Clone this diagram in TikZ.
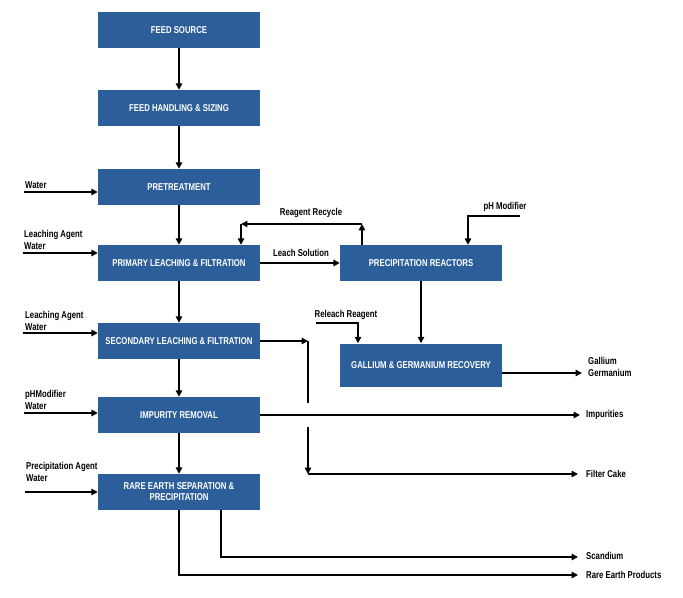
\documentclass[tikz,border=0pt]{standalone}
\usepackage{fontspec}
\setmainfont{Liberation Sans}
\newfontfamily\condfont[FakeStretch=0.78]{Liberation Sans}
\usetikzlibrary{arrows.meta}
\definecolor{boxblue}{RGB}{44,94,153}

\tikzset{
  unitbox/.style={fill=boxblue, text=white, minimum width=4.86cm, minimum height=1.08cm,
    font=\condfont\bfseries\fontsize{8.5}{9.5}\selectfont, align=center, inner sep=1pt},
  flow/.style={line width=1.4pt, -{Triangle[length=5.5pt,width=5.5pt]}},
  pipe/.style={line width=1.4pt},
  lbl/.style={font=\condfont\bfseries\fontsize{8.5}{10}\selectfont, inner sep=0pt, align=left}
}

\begin{document}
\begin{tikzpicture}[x=0.03cm,y=-0.03cm]
		\useasboundingbox (0,0) rectangle (683,598);
		
		% main column
		\node[unitbox] (feed) at (179,30) {FEED SOURCE};
		\node[unitbox] (sizing) at (179,108) {FEED HANDLING \& SIZING};
		\node[unitbox] (pretreat) at (179,187) {PRETREATMENT};
		\node[unitbox] (primary) at (179,263) {PRIMARY LEACHING \& FILTRATION};
		\node[unitbox] (secondary) at (179,341) {SECONDARY LEACHING \& FILTRATION};
		\node[unitbox] (impurity) at (179,415) {IMPURITY REMOVAL};
		\node[unitbox] (rareearth) at (179,492) {RARE EARTH SEPARATION \&\\PRECIPITATION};
		
		% right column
		\node[unitbox] (reactors) at (421,263) {PRECIPITATION REACTORS};
		\node[unitbox, minimum height=1.29cm] (recovery) at (421,365) {GALLIUM \& GERMANIUM RECOVERY};
		
		\draw[flow] (feed) -- (sizing);
		\draw[flow] (sizing) -- (pretreat);
		\draw[flow] (pretreat) -- (primary);
		\draw[flow] (primary) -- (secondary);
		\draw[flow] (secondary) -- (impurity);
		\draw[flow] (impurity) -- (rareearth);
		
		% feeds from the left
		\coordinate (inPre) at (24,192);
		\coordinate (inPri) at (23,253);
		\coordinate (inSec) at (23,333);
		\coordinate (inImp) at (24,413);
		\coordinate (inRare) at (25,492);
		\draw[flow] (inPre) -- (inPre -| pretreat.west);
		\draw[flow] (inPri) -- (inPri -| primary.west);
		\draw[flow] (inSec) -- (inSec -| secondary.west);
		\draw[flow] (inImp) -- (inImp -| impurity.west);
		\draw[flow] (inRare) -- (inRare -| rareearth.west);
		
		\node[lbl, anchor=base west] (lPre) at (25,189) {Water};
		\node[lbl, anchor=base west] (lPri) at (24,249) {Leaching Agent\\Water};
		\node[lbl, anchor=base west] (lSec) at (25,330) {Leaching Agent\\Water};
		\node[lbl, anchor=base west] (lImp) at (25,409) {pHModifier\\Water};
		\node[lbl, anchor=base west] (lRare) at (26,481) {Precipitation Agent\\Water};
		
		% leach solution and recycle
		\draw[flow] (primary) -- (reactors);
		\node[lbl] (lLeach) at (301,253) {Leach Solution};
		
		\coordinate (rcUp) at (362,224);
		\coordinate (rcLeft) at (241,224);
		\draw[flow] (reactors.north -| rcUp) -- (rcUp);
		\draw[flow] (rcUp) -- (rcLeft);
		\draw[flow] (rcLeft) -- (rcLeft |- primary.north);
		\node[lbl] (lRecycle) at (311,213) {Reagent Recycle};
		
		\coordinate (phIn) at (520,216);
		\coordinate (phDrop) at (468,216);
		\draw[flow] (phIn) -- (phDrop) -- (phDrop |- reactors.north);
		\node[lbl] (lPh) at (505,207) {pH Modifier};
		
		\draw[flow] (reactors) -- (recovery);
		
		\coordinate (rlIn) at (316,323);
		\coordinate (rlDrop) at (358,323);
		\draw[flow] (rlIn) -- (rlDrop) -- (rlDrop |- recovery.north);
		\node[lbl] (lReleach) at (346,315) {Releach Reagent};
		
		\coordinate (gaOut) at (582,373);
		\draw[flow] (gaOut -| recovery.east) -- (gaOut);
		\node[lbl, anchor=west] (lGa) at (588,367) {Gallium\\Germanium};
		
		% filter cake
		\coordinate (fcTop) at (308,341);
		\coordinate (fcGapA) at (308,403);
		\coordinate (fcGapB) at (308,427);
		\coordinate (fcCorner) at (308,474);
		\coordinate (fcOut) at (578,474);
		\draw[flow] (secondary.east) -- (fcTop);
		\draw[pipe] (fcTop) -- (fcGapA);
		\draw[flow] (fcGapB) -- (fcCorner);
		\draw[flow] (fcCorner) -- (fcOut);
		\node[lbl, anchor=west] (lCake) at (586,474) {Filter Cake};
		
		% impurities
		\coordinate (impOut) at (580,415);
		\draw[flow] (impurity) -- (impOut);
		\node[lbl, anchor=west] (lImpOut) at (586,415) {Impurities};
		
		% products
		\coordinate (scTap) at (221,0);
		\coordinate (scOut) at (578,557);
		\coordinate (reOut) at (578,575);
		\draw[flow] (rareearth.south -| scTap) |- (scOut);
		\draw[flow] (rareearth.south) |- (reOut);
		\node[lbl, anchor=west] (lSc) at (586,556) {Scandium};
		\node[lbl, anchor=west] (lReOut) at (586,575) {Rare Earth Products};
	\end{tikzpicture}
\end{document}
